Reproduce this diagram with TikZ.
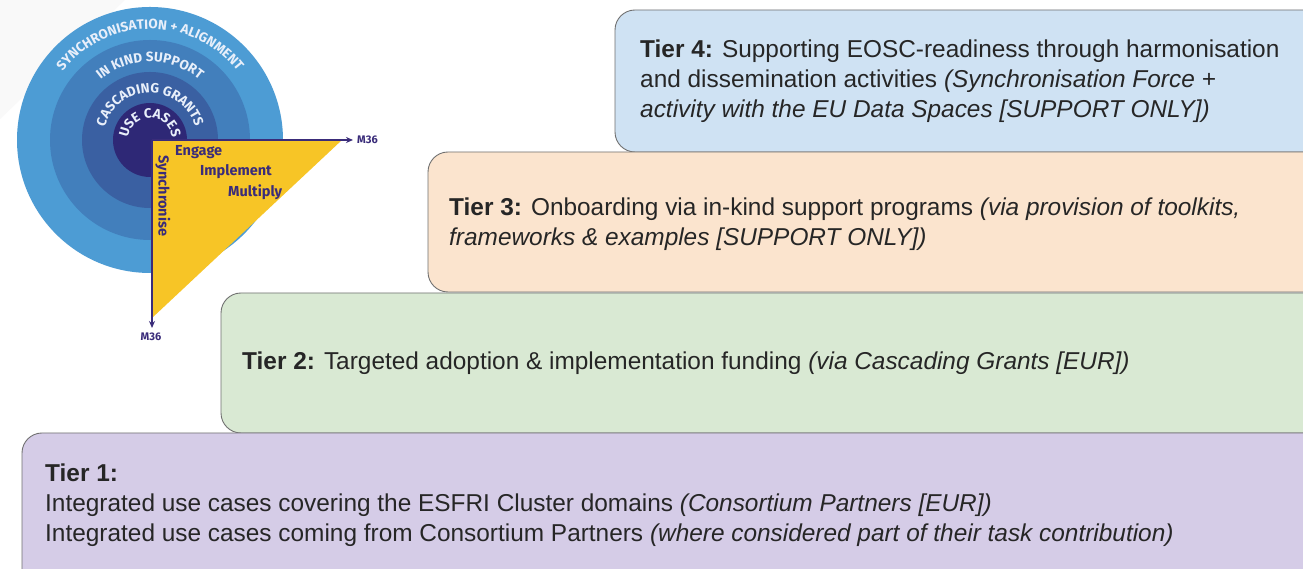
\documentclass[tikz,border=0pt]{standalone}
\usepackage{fontspec}
\setmainfont{Liberation Sans}
\newfontfamily\dinfont{Fira Sans}
\usetikzlibrary{arrows.meta,decorations.text}

\definecolor{tierfour}{RGB}{207,226,243}
\definecolor{tierthree}{RGB}{251,228,206}
\definecolor{tiertwo}{RGB}{217,233,211}
\definecolor{tierone}{RGB}{213,204,231}
\definecolor{tierline}{RGB}{112,112,112}
\definecolor{ringa}{RGB}{77,156,212}
\definecolor{ringb}{RGB}{66,127,188}
\definecolor{ringc}{RGB}{58,96,162}
\definecolor{ringd}{RGB}{46,40,118}
\definecolor{ringtext}{RGB}{232,239,250}
\definecolor{wedge}{RGB}{247,197,38}
\definecolor{axis}{RGB}{58,44,122}

\tikzset{
    tier/.style={draw=tierline, line width=0.9pt, rounded corners=20pt},
    tiertext/.style={anchor=west, align=left, inner sep=0pt, text=black!85,
        font=\fontsize{24.4}{30}\selectfont},
    ringlabel/.style={decorate, decoration={text along path, text align=center,
        text={|\dinfont\bfseries\fontsize{13.5}{13.5}\selectfont\color{ringtext}|#1}}},
    steplabel/.style={anchor=west, inner sep=0pt, text=axis,
        font=\dinfont\bfseries\fontsize{14.5}{14.5}\selectfont},
    monthlabel/.style={text=axis, inner sep=1pt, font=\dinfont\bfseries\fontsize{11}{11}\selectfont},
}

\begin{document}
\begin{tikzpicture}[x=1pt, y=1pt]
            \useasboundingbox (0,0) rectangle (1303,569);
            \clip (0,0) rectangle (1303,569);
            \fill[white] (0,0) rectangle (1303,569);
            \fill[black!2.5] (0,569) -- (125,569) -- (0,450) -- cycle;

            % the rings
            \fill[ringa] (150,429) circle (133);
            \fill[ringb] (150,429) circle (100);
            \fill[ringc] (150,429) circle (68);
            \fill[ringd] (150,429) circle (37);
            \path[ringlabel={SYNCHRONISATION + ALIGNMENT}] (150,429) ++(178:111) arc[start angle=178, end angle=2, radius=111];
            \path[ringlabel={IN KIND SUPPORT}] (150,429) ++(175:78) arc[start angle=175, end angle=5, radius=78];
            \path[ringlabel={CASCADING GRANTS}] (150,429) ++(178:47) arc[start angle=178, end angle=2, radius=47];
            \path[ringlabel={USE CASES}] (150,429) ++(178:22) arc[start angle=178, end angle=2, radius=22];

            % the wedge
            \coordinate (origin) at (152,429);
            \coordinate (xend) at (353,429);
            \coordinate (yend) at (152,241);
            \fill[wedge] (origin) -- (342,429) -- (152,251) -- cycle;
            \draw[-{Stealth[length=7pt,width=6pt]}, line width=1.6pt, axis] (origin) -- (xend);
            \draw[-{Stealth[length=7pt,width=6pt]}, line width=1.6pt, axis] (origin) -- (yend);
            \node[monthlabel, anchor=west] (xlabel) at (356,429) {M36};
            \node[monthlabel, anchor=north] (ylabel) at (151,237) {M36};
            \node[steplabel] (engage) at (175,417) {Engage};
            \node[steplabel] (implement) at (200,397) {Implement};
            \node[steplabel] (multiply) at (228,377) {Multiply};
            \node[steplabel, anchor=center, rotate=-90] (synchronise) at (163,373) {Synchronise};

            % the tiers
            \draw[tier, fill=tierfour] (615,417) rectangle (1325,559);
            \node[tiertext] (tierfourtext) at (640,488) {\textbf{Tier 4:} Supporting EOSC-readiness through harmonisation\\
                and dissemination activities \textit{(Synchronisation Force +}\\
                \textit{activity with the EU Data Spaces [SUPPORT ONLY])}};
            \draw[tier, fill=tierthree] (428,277) rectangle (1325,417);
            \node[tiertext] (tierthreetext) at (449,345) {\textbf{Tier 3:} Onboarding via in-kind support programs \textit{(via provision of toolkits,}\\
                \textit{frameworks \& examples [SUPPORT ONLY])}};
            \draw[tier, fill=tiertwo] (221,136) rectangle (1325,276);
            \node[tiertext] (tiertwotext) at (242,206) {\textbf{Tier 2:} Targeted adoption \& implementation funding \textit{(via Cascading Grants [EUR])}};
            \draw[tier, fill=tierone] (22,-25) rectangle (1325,136);
            \node[tiertext] (tieronetext) at (45,64) {\textbf{Tier 1:}\\
                Integrated use cases covering the ESFRI Cluster domains \textit{(Consortium Partners [EUR])}\\
                Integrated use cases coming from Consortium Partners \textit{(where considered part of their task contribution)}};
        \end{tikzpicture}
\end{document}
